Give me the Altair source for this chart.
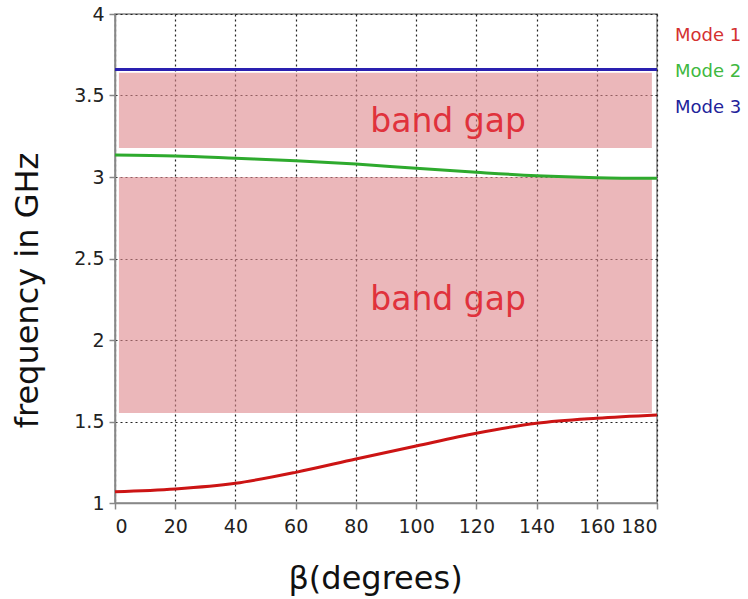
import altair as alt
import pandas as pd

beta = [0, 20, 40, 60, 80, 100, 120, 140, 160, 180]
mode1 = [1.069, 1.086, 1.121, 1.188, 1.270, 1.350, 1.428, 1.489, 1.520, 1.540]
mode2 = [3.135, 3.129, 3.115, 3.100, 3.080, 3.053, 3.029, 3.008, 2.996, 2.992]
mode3 = [3.66, 3.66, 3.66, 3.66, 3.66, 3.66, 3.66, 3.66, 3.66, 3.66]
mode_names = ["Mode 1", "Mode 2", "Mode 3"]
mode_colors = ["#cc1414", "#2eaa2e", "#2a20b0"]
legend_colors = ["#d43030", "#40b840", "#22229a"]

gap_beta_start = [1.3, 1.3]
gap_beta_end = [178.3, 178.3]
gap_low = [1.552, 3.178]
gap_high = [3.0, 3.64]

label_text = ["band gap", "band gap"]
label_beta = [110.6, 110.6]
label_freq = [3.34, 2.245]

x_ticks = [0, 20, 40, 60, 80, 100, 120, 140, 160, 180]
y_ticks = [1, 1.5, 2, 2.5, 3, 3.5, 4]

FONT = "DejaVu Sans"

rows = []
for name, vals in zip(mode_names, [mode1, mode2, mode3]):
    for b, v in zip(beta, vals):
        rows.append({"beta": b, "freq": v, "mode": name})
lines_df = pd.DataFrame(rows)

gaps_df = pd.DataFrame({"b0": gap_beta_start, "b1": gap_beta_end,
                        "lo": gap_low, "hi": gap_high})
labels_df = pd.DataFrame({"t": label_text, "b": label_beta, "f": label_freq})

xscale = alt.Scale(domain=[0, 180], nice=False, zero=False)
yscale = alt.Scale(domain=[1, 4], nice=False, zero=False)

xaxis = alt.Axis(values=x_ticks, title="β(degrees)", grid=True,
                 gridDash=[2, 3], gridColor="#222", gridWidth=1.2, gridOpacity=1,
                 labelFontSize=19, labelFont=FONT, labelColor="#222",
                 titleFontSize=32, titleFont=FONT, titleColor="#111", titleFontWeight="normal",
                 titleX=260, titleY=85, titleBaseline="alphabetic", titleAlign="center",
                 labelPadding=8,
                 domainColor="#888", domainWidth=1.5, tickColor="#888", tickSize=6, tickWidth=1.5)
yaxis = alt.Axis(values=y_ticks, format="~g", title="frequency in GHz", grid=True,
                 gridDash=[2, 3], gridColor="#222", gridWidth=1.2, gridOpacity=1,
                 labelFontSize=19, labelFont=FONT, labelColor="#222",
                 titleFontSize=32, titleFont=FONT, titleColor="#111", titleFontWeight="normal",
                 titleX=-78, titleY=276, titleAngle=-90, titleBaseline="alphabetic",
                 titleAlign="center", labelPadding=5,
                 domainColor="#888", domainWidth=1.5, tickColor="#888", tickSize=6, tickWidth=1.5)

gaps = alt.Chart(gaps_df).mark_rect(color="#de878c", opacity=0.6).encode(
    x=alt.X("b0:Q", scale=xscale, axis=xaxis),
    x2="b1:Q",
    y=alt.Y("lo:Q", scale=yscale, axis=yaxis),
    y2="hi:Q",
)

color_expr = ("datum.value == 'Mode 1' ? '%s' : datum.value == 'Mode 2' ? '%s' : '%s'"
              % tuple(legend_colors))

lines = alt.Chart(lines_df).mark_line(strokeWidth=3, interpolate="monotone").encode(
    x=alt.X("beta:Q", scale=xscale),
    y=alt.Y("freq:Q", scale=yscale),
    color=alt.Color("mode:N", scale=alt.Scale(domain=mode_names, range=mode_colors),
                    legend=alt.Legend(title=None, orient="none", legendX=540, legendY=13,
                                      symbolOpacity=0, symbolSize=0, symbolStrokeWidth=0,
                                      labelFontSize=18, labelFont=FONT,
                                      labelColor=alt.ExprRef(color_expr),
                                      rowPadding=18, labelOffset=2)),
)

texts = alt.Chart(labels_df).mark_text(color="#e0323c", fontSize=33, font=FONT,
                                       align="center", baseline="middle").encode(
    x=alt.X("b:Q", scale=xscale),
    y=alt.Y("f:Q", scale=yscale),
    text="t:N",
)

chart = alt.layer(gaps, lines, texts).properties(
    width=542, height=489,
    autosize=alt.AutoSizeParams(type="none"),
    padding={"left": 115, "top": 14, "right": 91, "bottom": 96},
    background="white",
).configure_view(stroke="#888", strokeWidth=1.5)

chart.save("out.html", embed_options={"renderer": "svg", "actions": False})
